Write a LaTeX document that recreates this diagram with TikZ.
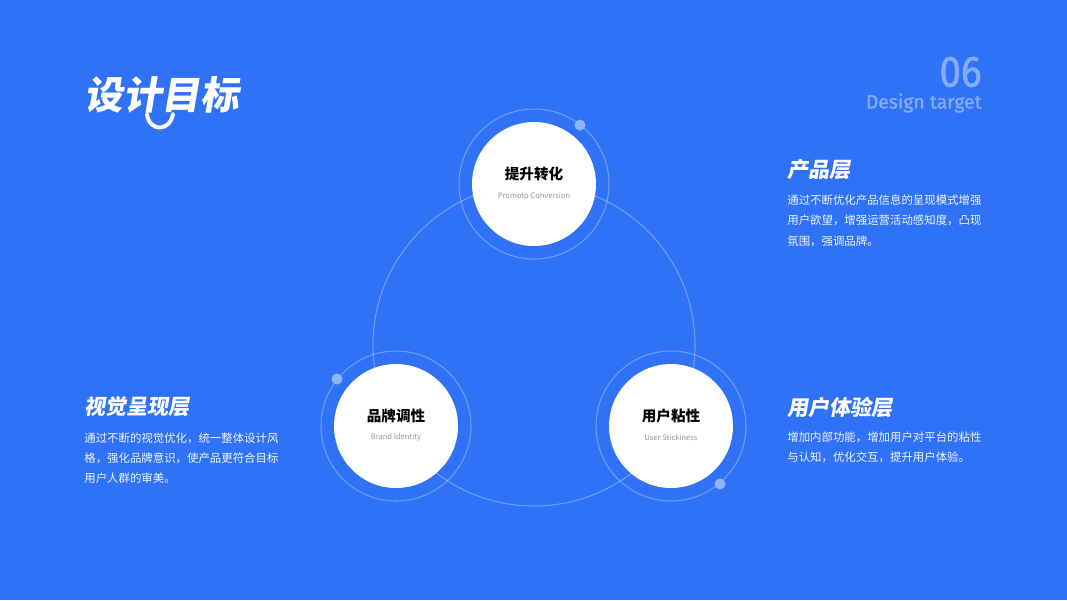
\documentclass[tikz,border=0pt]{standalone}
\usepackage{fontspec}
\usepackage{tikz}
\usetikzlibrary{positioning}
\setmainfont{Noto Sans CJK SC}
\newfontfamily\headfont[FakeSlant=0.17]{Noto Sans CJK SC}
\newfontfamily\numfont[FakeStretch=0.88,FakeBold=1.2]{Fira Sans}
\newfontfamily\enfont[FakeBold=1.2]{Fira Sans}
\definecolor{pagebg}{RGB}{47,114,246}
\definecolor{dotblue}{RGB}{143,180,250}
\definecolor{numblue}{RGB}{132,170,249}
\definecolor{subgray}{RGB}{150,150,150}

\begin{document}
\begin{tikzpicture}[x=0.02cm, y=-0.02cm,
    bubble/.style={circle, fill=white, minimum size=2.48cm, inner sep=0pt},
    ring/.style={draw=white, draw opacity=0.3, line width=0.6pt},
    knob/.style={circle, fill=dotblue, minimum size=0.22cm, inner sep=0pt},
    tag/.style={inner sep=0pt, text=black, font=\bfseries\fontsize{8.3}{10}\selectfont},
    subtag/.style={inner sep=0pt, text=subgray, font=\fontsize{4.3}{5}\selectfont},
    heading/.style={anchor=west, inner sep=0pt, text=white, font=\headfont\bfseries\fontsize{12}{14}\selectfont},
    blurb/.style={anchor=north west, inner sep=0pt, align=left, text=white, text opacity=0.92, font=\fontsize{6.5}{11.66}\selectfont}]

    \fill[pagebg] (0,0) rectangle (1067,600);

    % title and page number
    \node[anchor=west, inner sep=0pt, text=white, font=\headfont\bfseries\fontsize{22}{26}\selectfont] (title) at (84,95) {设计目标};
    \draw[white, line width=2.2pt, line cap=round] (147,114) .. controls (149,132) and (170,132) .. (173,114);
    \node[anchor=east, inner sep=0pt, text=numblue, font=\numfont\fontsize{25}{28}\selectfont] (num) at (982,72) {06};
    \node[anchor=east, inner sep=0pt, text=numblue, font=\enfont\fontsize{11}{13}\selectfont] (sub) at (982,103) {Design target};

    % orbit behind the bubbles
    \draw[ring] (534,345) circle (161);

    \node[bubble] (conv) at (534,184) {};
    \node[bubble] (brand) at (396,426) {};
    \node[bubble] (stick) at (671,426) {};

    \draw[ring] (conv.center) circle (75);
    \draw[ring] (brand.center) circle (75);
    \draw[ring] (stick.center) circle (75);

    \node[knob] (knobconv) at (580,125) {};
    \node[knob] (knobbrand) at (337,379) {};
    \node[knob] (knobstick) at (720,484) {};

    \node[tag] (convtag) at ([yshift=0.2cm]conv.center) {提升转化};
    \node[subtag] (convsub) at ([yshift=-0.23cm]conv.center) {Promoto Conversion};
    \node[tag] (brandtag) at ([yshift=0.2cm]brand.center) {品牌调性};
    \node[subtag] (brandsub) at ([yshift=-0.23cm]brand.center) {Brand Identity};
    \node[tag] (sticktag) at ([yshift=0.2cm]stick.center) {用户粘性};
    \node[subtag] (sticksub) at ([yshift=-0.23cm]stick.center) {User Stickiness};

    % side texts
    \node[heading] (prodhead) at (787,170) {产品层};
    \node[blurb] (prodtext) at (787,194) {通过不断优化产品信息的呈现模式增强\\用户欲望，增强运营活动感知度，凸现\\氛围，强调品牌。};

    \node[heading] (vishead) at (84,407) {视觉呈现层};
    \node[blurb] (vistext) at (84,432) {通过不断的视觉优化，统一整体设计风\\格，强化品牌意识，使产品更符合目标\\用户人群的审美。};

    \node[heading] (userhead) at (787,407) {用户体验层};
    \node[blurb] (usertext) at (787,431) {增加内部功能，增加用户对平台的粘性\\与认知，优化交互，提升用户体验。};
\end{tikzpicture}
\end{document}
